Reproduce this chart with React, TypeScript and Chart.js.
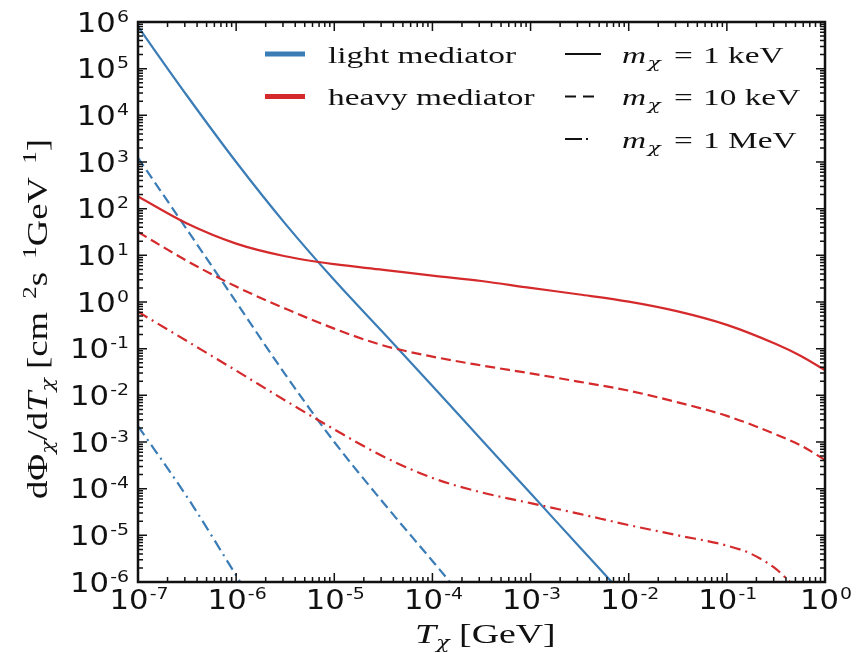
import React, { useEffect, useRef } from 'react';
import { Chart, registerables } from 'chart.js';

Chart.register(...registerables);

const BLUE = '#3a7cb6';
const RED = '#d42a2c';
const INK = '#111111';

// Kinetic energy T_chi [GeV] and flux dPhi/dT [cm^-2 s^-1 GeV^-1] for each curve.
// Light mediator
const lightT1keV = [1e-7, 3.16e-7, 1e-6, 3.16e-6, 1e-5, 3.16e-5, 1e-4, 3.16e-4, 1e-3, 3.16e-3, 6.7e-3];
const lightF1keV = [7.94e5, 2.63e4, 1.0e3, 47.9, 2.95, 0.219, 1.58e-2, 1.12e-3, 7.94e-5, 5.62e-6, 1e-6];

const lightT10keV = [1e-7, 3.16e-7, 1e-6, 3.16e-6, 1e-5, 3.16e-5, 1e-4, 1.51e-4];
const lightF10keV = [1.23e3, 35.5, 1.0, 2.82e-2, 1.0e-3, 5.0e-5, 2.82e-6, 1e-6];

const lightT1MeV = [1e-7, 3.3e-7, 1.1e-6];
const lightF1MeV = [2.2e-3, 5.8e-5, 1e-6];

// Heavy mediator
const heavyT1keV = [1e-7, 3.16e-7, 1e-6, 3.16e-6, 1e-5, 3.16e-5, 1e-4, 3.16e-4, 1e-3, 3.16e-3, 1e-2, 3.16e-2, 0.1, 0.316, 0.562, 1];
const heavyF1keV = [182, 47.9, 17.8, 9.55, 6.46, 4.9, 3.66, 2.82, 2.0, 1.45, 1.02, 0.63, 0.324, 0.126, 0.0708, 0.0347];

const heavyT10keV = [1e-7, 3.16e-7, 1e-6, 3.16e-6, 1e-5, 3.16e-5, 1e-4, 3.16e-4, 1e-3, 3.16e-3, 1e-2, 3.16e-2, 0.1, 0.316, 0.562, 1];
const heavyF10keV = [31.6, 7.59, 2.14, 0.724, 0.269, 0.117, 6.76e-2, 4.37e-2, 2.95e-2, 1.95e-2, 1.26e-2, 7.08e-3, 3.63e-3, 1.45e-3, 8.51e-4, 4.12e-4];

const heavyT1MeV = [1e-7, 3.16e-7, 1e-6, 3.16e-6, 1e-5, 3.16e-5, 1e-4, 3.16e-4, 1e-3, 3.16e-3, 1e-2, 3.16e-2, 0.1, 0.178, 0.316, 0.44];
const heavyF1MeV = [0.617, 0.145, 3.39e-2, 7.76e-3, 1.86e-3, 4.9e-4, 1.7e-4, 8.32e-5, 4.9e-5, 2.88e-5, 1.66e-5, 1.0e-5, 6.03e-6, 3.98e-6, 1.91e-6, 1e-6];

// Axis decades
const xDecades = [-7, -6, -5, -4, -3, -2, -1, 0];
const yDecades = [-6, -5, -4, -3, -2, -1, 0, 1, 2, 3, 4, 5, 6];

// Legend entries
const mediatorLabels = ['light mediator', 'heavy mediator'];
const mediatorColors = [BLUE, RED];
const massValues = ['1', '10', '1'];
const massUnits = ['keV', 'keV', 'MeV'];

const DASHED = [10, 5];
const DASHDOT = [11, 5, 2, 5];

type Run = { t: string; f: string; dy?: number; dx?: number };

const SERIF = '"Liberation Serif", "Times New Roman", serif';
const GREEK = '"DejaVu Serif", serif';
const SANS = '"DejaVu Sans", sans-serif';

function runsWidth(ctx: CanvasRenderingContext2D, runs: Run[]) {
  let w = 0;
  for (const r of runs) {
    ctx.font = r.f;
    w += (r.dx || 0) + ctx.measureText(r.t).width;
  }
  return w;
}

function drawRuns(
  ctx: CanvasRenderingContext2D,
  runs: Run[],
  x: number,
  y: number,
  along: number,
  align: 'left' | 'right' | 'center' = 'left',
  rotate = 0,
  across = 1
) {
  ctx.save();
  ctx.translate(x, y);
  if (rotate) ctx.rotate(rotate);
  ctx.scale(along, across);
  const w = runsWidth(ctx, runs);
  let cx = align === 'left' ? 0 : align === 'right' ? -w : -w / 2;
  ctx.textAlign = 'left';
  ctx.textBaseline = 'alphabetic';
  ctx.fillStyle = INK;
  for (const r of runs) {
    ctx.font = r.f;
    cx += r.dx || 0;
    ctx.fillText(r.t, cx, r.dy || 0);
    cx += ctx.measureText(r.t).width;
  }
  ctx.restore();
}

function pow10Label(n: number): Run[] {
  return [
    { t: '10', f: `26px ${SANS}` },
    { t: n < 0 ? `-${-n}` : `${n}`, f: `16px ${SANS}`, dy: -10, dx: 1 },
  ];
}

const framePlugin = {
  id: 'frameAndText',
  afterDatasetsDraw(chart: any) {
    const ctx: CanvasRenderingContext2D = chart.ctx;
    const { left, right, top, bottom } = chart.chartArea;
    const xs = chart.scales.x;
    const ys = chart.scales.y;

    ctx.save();
    // inward ticks on all four sides
    ctx.strokeStyle = INK;
    ctx.lineWidth = 1.5;
    const tick = (px: number, len: number, horiz: boolean) => {
      ctx.beginPath();
      if (horiz) {
        ctx.moveTo(px, bottom);
        ctx.lineTo(px, bottom - len);
        ctx.moveTo(px, top);
        ctx.lineTo(px, top + len);
      } else {
        ctx.moveTo(left, px);
        ctx.lineTo(left + len, px);
        ctx.moveTo(right, px);
        ctx.lineTo(right - len, px);
      }
      ctx.stroke();
    };
    for (const n of xDecades) {
      tick(xs.getPixelForValue(Math.pow(10, n)), 9, true);
      if (n < 0) for (let k = 2; k <= 9; k++) tick(xs.getPixelForValue(k * Math.pow(10, n)), 5, true);
    }
    for (const n of yDecades) {
      tick(ys.getPixelForValue(Math.pow(10, n)), 9, false);
      if (n < 6) for (let k = 2; k <= 9; k++) tick(ys.getPixelForValue(k * Math.pow(10, n)), 5, false);
    }

    // frame
    ctx.lineWidth = 2.5;
    ctx.strokeRect(left, top, right - left, bottom - top);

    // tick labels
    for (const n of yDecades) {
      drawRuns(ctx, pow10Label(n), 129, ys.getPixelForValue(Math.pow(10, n)) + 9.5, 1.18, 'right');
    }
    for (const n of xDecades) {
      drawRuns(ctx, pow10Label(n), xs.getPixelForValue(Math.pow(10, n)) + 1, 609, 1.18, 'center');
    }

    // axis titles
    drawRuns(
      ctx,
      [
        { t: 'T', f: `italic 27px ${SERIF}` },
        { t: 'χ', f: `italic 16px ${GREEK}`, dy: 5 },
        { t: ' [GeV]', f: `27px ${SERIF}` },
      ],
      415,
      643,
      1.4
    );

    const yTitle: Run[] = [
      { t: 'dΦ', f: `25px ${SERIF}` },
      { t: 'χ', f: `italic 15px ${GREEK}`, dy: 5 },
      { t: '/d', f: `25px ${SERIF}` },
      { t: 'T', f: `italic 25px ${SERIF}` },
      { t: 'χ', f: `italic 15px ${GREEK}`, dy: 5 },
      { t: ' [cm', f: `25px ${SERIF}` },
      { t: '2', f: `17px ${SERIF}`, dy: -10, dx: 9 },
      { t: 's', f: `25px ${SERIF}` },
      { t: '1', f: `17px ${SERIF}`, dy: -10, dx: 9 },
      { t: 'GeV', f: `25px ${SERIF}` },
      { t: '1', f: `17px ${SERIF}`, dy: -10, dx: 9 },
      { t: ']', f: `25px ${SERIF}` },
    ];
    const yLen = runsWidth(ctx, yTitle);
    drawRuns(ctx, yTitle, 47, 319, 360 / yLen, 'center', -Math.PI / 2, 1.15);

    // legend: mediator colours
    const rows = [54, 96.5, 139];
    ctx.setLineDash([]);
    ctx.lineCap = 'butt';
    mediatorLabels.forEach((lab, i) => {
      ctx.strokeStyle = mediatorColors[i];
      ctx.lineWidth = 5;
      ctx.beginPath();
      ctx.moveTo(265, rows[i]);
      ctx.lineTo(305, rows[i]);
      ctx.stroke();
      drawRuns(ctx, [{ t: lab, f: `23px ${SERIF}` }], 328, rows[i] + 8.5, 1.45);
    });

    // legend: dark-matter mass line styles
    const dashes = [[], [11, 7], [17, 4, 2, 40]];
    massValues.forEach((v, i) => {
      ctx.strokeStyle = INK;
      ctx.lineWidth = 2;
      ctx.setLineDash(dashes[i]);
      ctx.beginPath();
      ctx.moveTo(565, rows[i]);
      ctx.lineTo(601, rows[i]);
      ctx.stroke();
      ctx.setLineDash([]);
      const by = rows[i] + 8.5;
      drawRuns(
        ctx,
        [
          { t: 'm', f: `italic 23px ${SERIF}` },
          { t: 'χ', f: `italic 15px ${GREEK}`, dy: 5, dx: 1 },
        ],
        622,
        by,
        1.45
      );
      drawRuns(ctx, [{ t: '=', f: `23px ${SERIF}` }], 674, by, 1.45);
      drawRuns(ctx, [{ t: `${v} ${massUnits[i]}`, f: `23px ${SERIF}` }], 703, by, 1.45);
    });
    ctx.restore();
  },
};

function series(xs: number[], ys: number[]) {
  return xs.map((x, i) => ({ x, y: ys[i] }));
}

export default function App() {
  const ref = useRef<HTMLCanvasElement | null>(null);

  useEffect(() => {
    if (!ref.current) return;
    const line = (data: any, color: string, dash: number[]) => ({
      data,
      borderColor: color,
      borderWidth: 2.2,
      borderDash: dash,
      pointRadius: 0,
      fill: false,
      cubicInterpolationMode: 'monotone' as const,
    });
    const chart = new Chart(ref.current, {
      type: 'line',
      data: {
        datasets: [
          line(series(heavyT1keV, heavyF1keV), RED, []),
          line(series(heavyT10keV, heavyF10keV), RED, DASHED),
          line(series(heavyT1MeV, heavyF1MeV), RED, DASHDOT),
          line(series(lightT1keV, lightF1keV), BLUE, []),
          line(series(lightT10keV, lightF10keV), BLUE, DASHED),
          line(series(lightT1MeV, lightF1MeV), BLUE, DASHDOT),
        ],
      },
      options: {
        animation: false,
        responsive: false,
        devicePixelRatio: 1,
        layout: { padding: { left: 138, top: 22, right: 38, bottom: 71 } },
        plugins: { legend: { display: false }, tooltip: { enabled: false } },
        scales: {
          x: { type: 'logarithmic', min: 1e-7, max: 1, display: false },
          y: { type: 'logarithmic', min: 1e-6, max: 1e6, display: false },
        },
      },
      plugins: [framePlugin],
    });
    return () => chart.destroy();
  }, []);

  return (
    <div style={{ position: 'absolute', left: 0, top: 0, width: 863, height: 653, background: '#fff' }}>
      <canvas ref={ref} width={863} height={653} style={{ width: 863, height: 653 }} />
    </div>
  );
}
